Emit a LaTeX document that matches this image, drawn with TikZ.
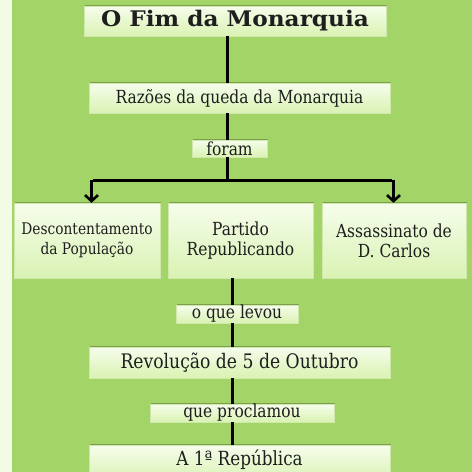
\documentclass[tikz,border=0pt]{standalone}
\usepackage{fontspec}
\setmainfont[FakeStretch=0.86]{DejaVu Serif}
\newfontfamily\titlefont[FakeStretch=1.08]{DejaVu Serif}
\usetikzlibrary{shadows,arrows.meta}
\definecolor{bggreen}{HTML}{A2D468}
\definecolor{strip}{HTML}{F2FBE3}
\definecolor{boxtop}{HTML}{F6FDEC}
\definecolor{boxbot}{HTML}{D9F2B2}
\definecolor{ink}{HTML}{1E1E1E}
\tikzset{
  cbox/.style={draw=boxbot!80!black!20!boxbot, line width=0.3pt, top color=boxtop, bottom color=boxbot,
    drop shadow={shadow xshift=1.2pt, shadow yshift=1.2pt, opacity=0.35, fill=black!70!bggreen},
    inner sep=0pt, align=center, text=ink, font=\fontsize{18}{20}\selectfont},
  lbox/.style={cbox, font=\fontsize{18}{20}\selectfont},
  conn/.style={line width=3pt, draw=black},
  carrow/.style={conn, -{Straight Barb[length=6pt,width=13pt,line width=2.6pt]}}
}
\begin{document}
\begin{tikzpicture}[x=1pt,y=-1pt]
\useasboundingbox (0,0) rectangle (472,472);
\begin{scope}
\clip (0,0) rectangle (472,472);
\fill[strip] (0,0) rectangle (12,472);
\fill[bggreen] (12,0) rectangle (472,472);
\node[cbox, minimum width=302pt, minimum height=30pt, font=\titlefont\bfseries\fontsize{21.5}{24}\selectfont] (title) at (235,21) {O Fim da Monarquia};
\node[cbox, minimum width=301pt, minimum height=30pt] (razoes) at (239.5,98) {Razões da queda da Monarquia};
\node[lbox, minimum width=75pt, minimum height=17pt] (foram) at (229.5,148.5) {foram};
\node[cbox, minimum width=146pt, minimum height=75pt, font=\fontsize{16}{20}\selectfont] (pop) at (87,240.5) {Descontentamento\\da População};
\node[cbox, minimum width=145pt, minimum height=75pt] (partido) at (240.5,240.5) {Partido\\Republicando};
\node[cbox, minimum width=144pt, minimum height=75pt] (carlos) at (394,240.5) {Assassinato de\\D. Carlos};
\node[lbox, minimum width=122pt, minimum height=18pt] (levou) at (237,314) {o que levou};
\node[cbox, minimum width=301pt, minimum height=31pt, font=\fontsize{20}{22}\selectfont] (revol) at (239.5,362.5) {Revolução de 5 de Outubro};
\node[lbox, minimum width=184pt, minimum height=18pt] (proc) at (242,413) {que proclamou};
\node[cbox, minimum width=301pt, text height=20pt, text depth=16pt, anchor=north, font=\fontsize{19.5}{22}\selectfont] (rep) at (239.5,445) {A 1ª República};
\coordinate (spineA) at (227,0);
\coordinate (spineB) at (232,0);
\coordinate (split) at (227,180);
\coordinate (leftc) at (93,180);
\coordinate (rightc) at (392,180);
\draw[conn] (title.south -| spineA) -- (razoes.north -| spineA);
\draw[conn] (razoes.south -| spineA) -- (foram.north -| spineA);
\draw[conn] (foram.south -| spineA) -- (split);
\draw[conn] (leftc) -- (rightc);
\draw[carrow] ([xshift=-1.5pt]leftc) -- ([xshift=-1.5pt]pop.north -| leftc);
\draw[carrow] ([xshift=1.5pt]rightc) -- ([xshift=1.5pt]carlos.north -| rightc);
\draw[conn] (partido.south -| spineB) -- (levou.north -| spineB);
\draw[conn] (levou.south -| spineB) -- (revol.north -| spineB);
\draw[conn] (revol.south -| spineB) -- (proc.north -| spineB);
\draw[conn] (proc.south -| spineB) -- (rep.north -| spineB);
\end{scope}
\end{tikzpicture}
\end{document}
